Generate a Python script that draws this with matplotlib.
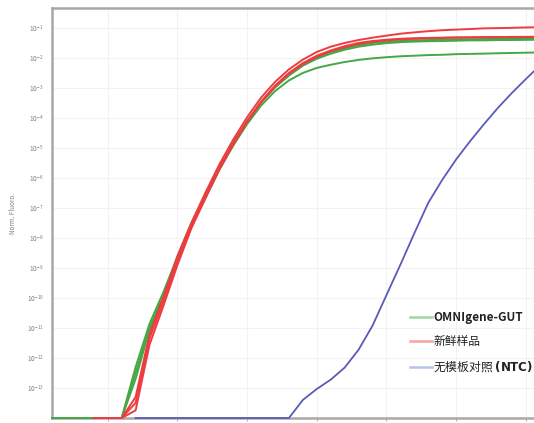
import matplotlib
matplotlib.use("Agg")
import matplotlib.pyplot as plt
import numpy as np
from matplotlib.lines import Line2D

plt.rcParams['font.family'] = ['Noto Sans CJK SC', 'DejaVu Sans']

# PCR cycle number (shared by all curves)
cycles = np.arange(1, 37)
nan = np.nan

# normalised fluorescence (nan = not drawn)
omni_1 = [1e-14, 1e-14, 1e-14, 1e-14, 1e-14, 1e-14, 5.0e-13, 1.4e-11, 1.6e-10, 2.4e-9,
          3.2e-8, 2.6e-7, 2.2e-6, 1.5e-5, 7.9e-5, 3.5e-4, 1.1e-3, 2.8e-3, 6.0e-3, 1.05e-2,
          1.6e-2, 2.1e-2, 2.7e-2, 3.2e-2, 3.5e-2, 3.7e-2, 3.9e-2, 4.0e-2, 4.1e-2, 4.2e-2,
          4.25e-2, 4.3e-2, 4.35e-2, 4.4e-2, 4.45e-2, 4.5e-2]
omni_2 = [1e-14, 1e-14, 1e-14, 1e-14, 1e-14, 1e-14, 2.0e-13, 8.9e-12, 1.1e-10, 1.7e-9,
          2.4e-8, 2.1e-7, 1.9e-6, 1.3e-5, 7.2e-5, 3.3e-4, 1.05e-3, 2.6e-3, 5.6e-3, 9.5e-3,
          1.4e-2, 1.9e-2, 2.4e-2, 2.8e-2, 3.15e-2, 3.4e-2, 3.55e-2, 3.65e-2, 3.7e-2, 3.8e-2,
          3.9e-2, 3.9e-2, 4.0e-2, 4.0e-2, 4.05e-2, 4.1e-2]
omni_3 = [1e-14, 1e-14, 1e-14, 1e-14, 1e-14, 1e-14, 3.2e-13, 1.0e-11, 1.25e-10, 2.0e-9,
          2.6e-8, 2.2e-7, 1.9e-6, 1.2e-5, 6.3e-5, 2.6e-4, 7.9e-4, 1.8e-3, 3.2e-3, 4.7e-3,
          6.0e-3, 7.4e-3, 8.7e-3, 9.8e-3, 1.07e-2, 1.15e-2, 1.2e-2, 1.26e-2, 1.29e-2, 1.35e-2,
          1.38e-2, 1.41e-2, 1.45e-2, 1.48e-2, 1.51e-2, 1.55e-2]
fresh_1 = [nan, nan, nan, 1e-14, 1e-14, 1e-14, 5.0e-14, 6.3e-12, 1.1e-10, 2.5e-9,
           3.2e-8, 3.2e-7, 2.8e-6, 1.9e-5, 1.07e-4, 4.8e-4, 1.6e-3, 4.2e-3, 8.9e-3, 1.6e-2,
           2.4e-2, 3.2e-2, 4.0e-2, 4.8e-2, 5.6e-2, 6.5e-2, 7.2e-2, 7.9e-2, 8.5e-2, 8.9e-2,
           9.3e-2, 9.8e-2, 1.0e-1, 1.02e-1, 1.05e-1, 1.07e-1]
fresh_2 = [nan, nan, nan, 1e-14, 1e-14, 1e-14, 3.2e-14, 4.5e-12, 7.9e-11, 1.6e-9,
           2.5e-8, 2.4e-7, 2.1e-6, 1.4e-5, 7.9e-5, 3.5e-4, 1.2e-3, 3.2e-3, 6.8e-3, 1.2e-2,
           1.8e-2, 2.5e-2, 3.2e-2, 3.7e-2, 4.1e-2, 4.4e-2, 4.6e-2, 4.7e-2, 4.8e-2, 4.9e-2,
           4.9e-2, 5.0e-2, 5.0e-2, 5.1e-2, 5.1e-2, 5.2e-2]
fresh_3 = [nan, nan, nan, 1e-14, 1e-14, 1e-14, 1.8e-14, 2.8e-12, 5.6e-11, 1.26e-9,
           2.1e-8, 2.1e-7, 1.9e-6, 1.3e-5, 7.4e-5, 3.3e-4, 1.1e-3, 3.0e-3, 6.3e-3, 1.1e-2,
           1.7e-2, 2.3e-2, 2.95e-2, 3.5e-2, 3.9e-2, 4.2e-2, 4.4e-2, 4.6e-2, 4.7e-2, 4.8e-2,
           4.9e-2, 4.9e-2, 5.0e-2, 5.0e-2, 5.0e-2, 5.1e-2]
ntc = [nan, nan, nan, nan, nan, nan, 1e-14, 1e-14, 1e-14, 1e-14,
       1e-14, 1e-14, 1e-14, 1e-14, 1e-14, 1e-14, 1e-14, 1e-14, 4.0e-14, 9.3e-14,
       1.9e-13, 4.8e-13, 1.9e-12, 1.2e-11, 1.26e-10, 1.3e-9, 1.45e-8, 1.5e-7, 8.7e-7, 4.2e-6,
       1.7e-5, 6.3e-5, 2.2e-4, 6.9e-4, 2.0e-3, 5.6e-3]

legend_labels = ['OMNIgene-GUT', '新鲜样品', r'无模板对照 $\mathbf{(NTC)}$']

green = '#43a845'
red = '#ee3b3f'
blue = '#5a5ab8'

fig = plt.figure(figsize=(5.34, 4.23), dpi=100)
ax = fig.add_axes([52 / 534, 5 / 423, 1 - 52 / 534 + 0.05, 410 / 423])

for vals in [omni_1, omni_2, omni_3]:
    ax.plot(cycles, vals, color=green, lw=1.4, zorder=3, clip_on=False)
for vals in [fresh_1, fresh_2, fresh_3]:
    ax.plot(cycles, vals, color=red, lw=1.4, zorder=3, clip_on=False)
ax.plot(cycles, ntc, color=blue, lw=1.3, zorder=3, clip_on=False)

ax.set_yscale('log')
ax.set_ylim(1e-14, 10 ** -0.33)
ax.set_xlim(1, 37.5)
ax.set_yticks([10.0 ** k for k in range(-13, 0)])
ax.yaxis.set_minor_locator(matplotlib.ticker.NullLocator())
ax.set_xticks(range(5, 40, 5))
ax.tick_params(axis='y', labelsize=4.8, labelcolor='#808080', length=0, pad=6)
ax.tick_params(axis='x', labelbottom=False, length=2, color='#b0b0b0')
ax.grid(True, color='#f2f2f2', lw=0.8)
ax.set_axisbelow(True)

for s in ['left', 'top', 'bottom']:
    ax.spines[s].set_color('#a8a8a8')
    ax.spines[s].set_linewidth(1.8)
ax.spines['right'].set_visible(False)

ax.set_ylabel('Norm. Fluoro.', fontsize=4.5, color='#808080', labelpad=7)

handles = [Line2D([], [], color='#9ed69e', lw=1.8),
           Line2D([], [], color='#f5a3a3', lw=1.8),
           Line2D([], [], color='#b3c6e6', lw=1.8)]
leg = ax.legend(handles, legend_labels, loc='upper left',
                bbox_to_anchor=(410 / 534, (423 - 311) / 423), bbox_transform=fig.transFigure,
                frameon=False, fontsize=8.5, handlelength=1.9, handletextpad=0.05,
                labelspacing=0.95, borderpad=0, borderaxespad=0)
leg.get_texts()[0].set_fontweight('bold')
for t in leg.get_texts():
    t.set_color('#222222')

fig.savefig('out.png', dpi=100)
